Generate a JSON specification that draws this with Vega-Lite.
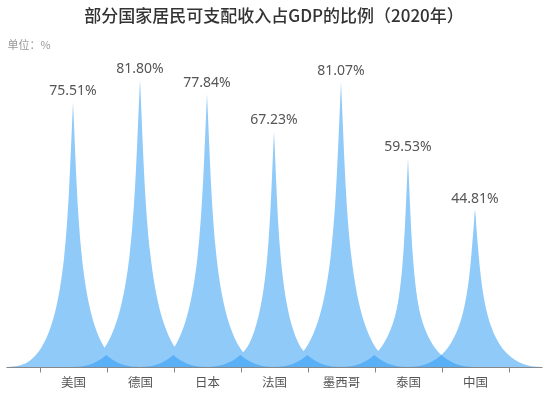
{
  "$schema": "https://vega.github.io/schema/vega-lite/v6.json",
  "width": 536,
  "height": 316,
  "autosize": {"type": "none"},
  "padding": {"left": 6, "top": 51, "right": 4, "bottom": 26},
  "background": "white",
  "title": {
    "text": "部分国家居民可支配收入占GDP的比例（2020年）",
    "font": "Noto Sans CJK SC",
    "fontSize": 17,
    "fontWeight": 500,
    "color": "#333333",
    "anchor": "middle",
    "offset": 13
  },
  "data": {
    "values": [
      {"country": "美国", "share": 0.7551},
      {"country": "德国", "share": 0.818},
      {"country": "日本", "share": 0.7784},
      {"country": "法国", "share": 0.6723},
      {"country": "墨西哥", "share": 0.8107},
      {"country": "泰国", "share": 0.5953},
      {"country": "中国", "share": 0.4481}
    ]
  },
  "encoding": {
    "x": {
      "field": "country",
      "type": "nominal",
      "sort": null,
      "scale": {"paddingInner": 0, "paddingOuter": 0.5},
      "axis": {
        "title": null,
        "labelAngle": 0,
        "tickBand": "extent",
        "domainColor": "#888888",
        "tickColor": "#888888",
        "tickSize": 5,
        "labelPadding": 4,
        "labelFont": "Noto Sans CJK SC",
        "labelFontSize": 12.5,
        "labelColor": "#555555",
        "grid": false
      }
    }
  },
  "layer": [
    {
      "mark": {
        "type": "point",
        "shape": "M -0.67 0 L 0.67 0 C 0.067 0 0.067 -0.7865 0 -1.573 C -0.067 -0.7865 -0.067 0 -0.67 0 Z",
        "filled": true,
        "fill": "#2196F3",
        "fillOpacity": 0.5,
        "opacity": 1,
        "strokeWidth": 0,
        "size": 40000
      },
      "encoding": {
        "y": {"datum": 0, "type": "quantitative", "scale": {"domain": [0, 0.9]}, "title": "单位：%"}
      }
    },
    {
      "mark": {
        "type": "point",
        "shape": "M -0.4666 0 L 0.4666 0 C 0.04666 0 0.04666 -1 0 -2 C -0.04666 -1 -0.04666 0 -0.4666 0 Z",
        "filled": true,
        "fill": "#90CAF9",
        "fillOpacity": 1,
        "opacity": 1,
        "strokeWidth": 0,
        "blend": "darken"
      },
      "encoding": {
        "y": {"datum": 0, "type": "quantitative", "scale": {"domain": [0, 0.9]}, "title": "单位：%"},
        "size": {
          "field": "share",
          "type": "quantitative",
          "scale": {"type": "pow", "exponent": 2, "domain": [0, 0.9], "range": [0, 99856]},
          "legend": null
        }
      }
    },
    {
      "mark": {
        "type": "text",
        "dy": -11,
        "baseline": "middle",
        "font": "Noto Sans",
        "fontSize": 14,
        "color": "#555555"
      },
      "encoding": {
        "y": {"field": "share", "type": "quantitative", "scale": {"domain": [0, 0.9]}, "title": "单位：%"},
        "text": {"field": "share", "type": "quantitative", "format": ".2%"}
      }
    }
  ],
  "config": {
    "view": {"stroke": null},
    "axisY": {
      "domain": false,
      "ticks": false,
      "labels": false,
      "grid": false,
      "titleAngle": 0,
      "titleAlign": "left",
      "titleBaseline": "middle",
      "titleX": 1,
      "titleY": -6,
      "titleFont": "Noto Sans CJK SC",
      "titleFontSize": 11,
      "titleFontWeight": "normal",
      "titleColor": "#999999"
    }
  }
}
